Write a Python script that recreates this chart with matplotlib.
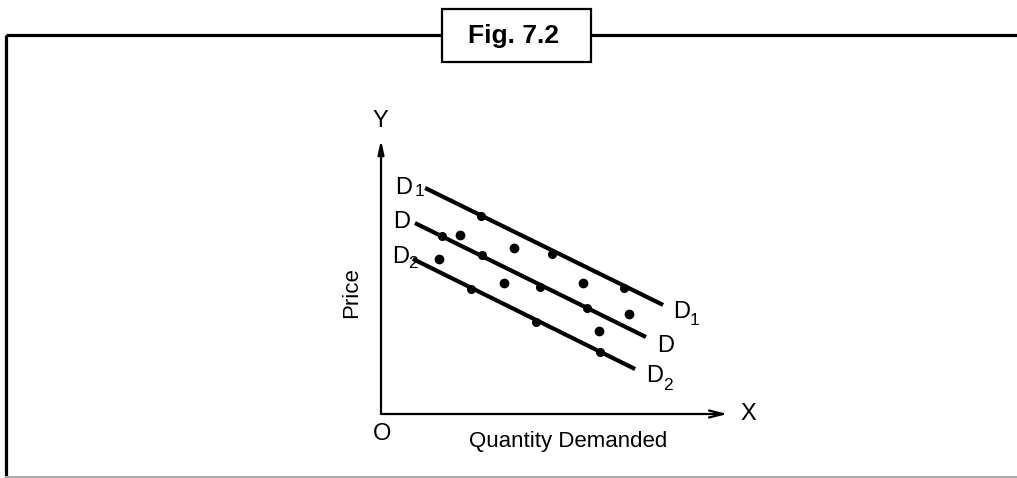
import numpy as np
import matplotlib.pyplot as plt
from matplotlib.patches import Rectangle

plt.rcParams['font.family'] = ['Liberation Sans', 'DejaVu Sans']

# demand curves (quantity, price) end points, 0..100 scale
d1_x = [12.6, 80.6]
d1_y = [82.5, 39.8]
d_x = [9.7, 75.7]
d_y = [69.7, 28.1]
d2_x = [9.1, 72.6]
d2_y = [56.6, 16.4]

# observations lying on the curves
on_x = [28.6, 48.9, 69.4, 17.4, 28.9, 45.4, 58.9, 25.7, 44.3, 62.6]
on_y = [72.3, 58.4, 46.0, 65.0, 58.0, 46.4, 38.7, 45.6, 33.6, 22.6]
# scattered observations
sc_x = [22.6, 38.0, 16.6, 35.1, 57.7, 70.9, 62.3]
sc_y = [65.3, 60.6, 56.6, 47.8, 47.8, 36.5, 30.3]

# curve labels: (text, subscript, x, y, sub_x, sub_y)
curve_labels = [
    ('D', '1', 4.0, 80.3, 9.7, 79.6),
    ('D', '', 3.4, 67.9, 0, 0),
    ('D', '2', 3.1, 55.1, 7.7, 53.3),
    ('D', '1', 83.4, 35.0, 88.3, 32.5),
    ('D', '', 78.9, 22.6, 0, 0),
    ('D', '2', 75.7, 11.7, 80.6, 8.8),
]

W, H = 1017, 478
fig = plt.figure(figsize=(W / 100, H / 100), dpi=100)

# background: frame + title box, pixel coords
bg = fig.add_axes([0, 0, 1, 1])
bg.set_xlim(0, W)
bg.set_ylim(H, 0)
bg.axis('off')
bg.plot([5.5, W], [35, 35], color='black', lw=2.3, solid_capstyle='butt')
bg.plot([5.5, 5.5], [35, H], color='black', lw=2.3, solid_capstyle='butt')
bg.plot([5.5, W], [477, 477], color='#aaaaaa', lw=1.5)
bg.add_patch(Rectangle((442, 9), 149, 53, facecolor='white', edgecolor='black', lw=1.6, zorder=3))
bg.text(514, 36, 'Fig. 7.2', fontsize=19, fontweight='bold', ha='center', va='center', zorder=4)

# diagram axes: origin at pixel (381, 414), x tip 731, y tip 140
x0, y0, x1, y1 = 381, 414, 731, 140
ax = fig.add_axes([x0 / W, (H - y0) / H, (x1 - x0) / W, (y0 - y1) / H])
ax.set_xlim(0, 100)
ax.set_ylim(0, 100)
ax.axis('off')

ax.annotate('', xy=(0, 100), xytext=(0, 0),
            arrowprops=dict(arrowstyle='-|>,head_length=0.8,head_width=0.18', lw=1.6, color='black',
                            shrinkA=0, shrinkB=0),
            annotation_clip=False)
ax.annotate('', xy=(99, 0), xytext=(0, 0),
            arrowprops=dict(arrowstyle='->,head_length=1.0,head_width=0.25', lw=1.6, color='black',
                            shrinkA=0, shrinkB=0),
            annotation_clip=False)

for xs, ys in [(d1_x, d1_y), (d_x, d_y), (d2_x, d2_y)]:
    ax.plot(xs, ys, color='black', lw=3, solid_capstyle='butt', clip_on=False)

ax.plot(on_x, on_y, 'o', color='black', ms=5.5, clip_on=False)
ax.plot(sc_x, sc_y, 'o', color='black', ms=6, clip_on=False)

fs = 17
ax.text(-0.3, 106.9, 'Y', fontsize=fs, ha='center', va='center', clip_on=False)
ax.text(104.9, 0, 'X', fontsize=fs, ha='center', va='center', clip_on=False)
ax.text(0.3, -7.3, 'O', fontsize=fs, ha='center', va='center', clip_on=False)
ax.text(-8.3, 44.5, 'Price', fontsize=16, rotation=90, ha='center', va='center', clip_on=False)
ax.text(53.4, -9.9, 'Quantity Demanded', fontsize=16, ha='center', va='center', clip_on=False)

for txt, sub, tx, ty, sx, sy in curve_labels:
    ax.text(tx, ty, txt, fontsize=fs, ha='left', va='baseline', clip_on=False)
    if sub:
        ax.text(sx, sy, sub, fontsize=12.5, ha='left', va='baseline', clip_on=False)

fig.savefig('out.png', dpi=100)
